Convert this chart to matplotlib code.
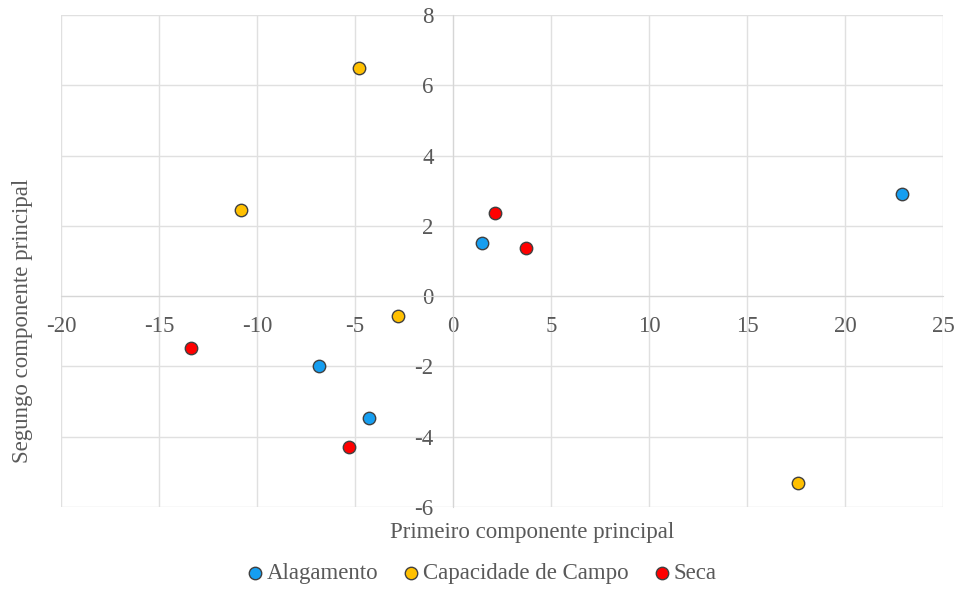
import matplotlib
matplotlib.use("Agg")
import matplotlib.pyplot as plt
from matplotlib.ticker import FuncFormatter

# PCA scores per treatment (first and second principal components)
alag_x = [1.5, 22.9, -6.85, -4.3]
alag_y = [1.5, 2.9, -1.98, -3.48]

cap_x = [-4.8, -10.8, -2.8, 17.6]
cap_y = [6.5, 2.46, -0.56, -5.33]

seca_x = [2.15, 3.7, -13.35, -5.3]
seca_y = [2.37, 1.36, -1.48, -4.28]

x_ticks = [-20, -15, -10, -5, 0, 5, 10, 15, 20, 25]
y_ticks = [-6, -4, -2, 0, 2, 4, 6, 8]

plt.rcParams["font.family"] = ["Liberation Serif", "DejaVu Serif"]
text_color = "#595959"
grid_color = "#e0e0e0"
fs = 16.5

fig = plt.figure(figsize=(9.6, 5.9), dpi=100)
ax = fig.add_axes([61 / 960, 1 - 507 / 590, 882 / 960, 492 / 590])

ax.set_xlim(-20, 25)
ax.set_ylim(-6, 8)
ax.set_xticks(x_ticks)
ax.set_yticks(y_ticks)
ax.grid(True, color=grid_color, linewidth=1.0)
ax.set_axisbelow(True)

# axes cross at the origin; spines only carry the tick labels
for side in ("top", "right"):
    ax.spines[side].set_visible(False)
ax.spines["left"].set_position(("data", 0))
ax.spines["bottom"].set_position(("data", 0))
ax.spines["left"].set_color("#d6d6d6")
ax.spines["bottom"].set_color("#d6d6d6")
ax.tick_params(axis="both", length=0, labelsize=fs, labelcolor=text_color)
ax.tick_params(axis="y", pad=14)
ax.tick_params(axis="x", pad=14)
fmt = FuncFormatter(lambda v, p: f"{v:.0f}")
ax.xaxis.set_major_formatter(fmt)
ax.yaxis.set_major_formatter(fmt)

mk = dict(s=80, edgecolors="#404040", linewidths=1.0, zorder=3)
ax.scatter(alag_x, alag_y, color="#169ef0", label="Alagamento", **mk)
ax.scatter(cap_x, cap_y, color="#ffc000", label="Capacidade de Campo", **mk)
ax.scatter(seca_x, seca_y, color="#ff0000", label="Seca", **mk)

ax.set_xlabel("Primeiro componente principal", fontsize=fs, color=text_color)
ax.xaxis.set_label_coords(0.534, -0.03)
ax.set_ylabel("Segungo componente principal", fontsize=fs, color=text_color)
ax.yaxis.set_label_coords(-0.032, 0.378)

leg = fig.legend(loc="center", bbox_to_anchor=(480 / 960, 1 - 573 / 590), ncol=3,
                 frameon=False, fontsize=fs, handletextpad=0.0, columnspacing=0.95,
                 scatterpoints=1, markerscale=1.0, handlelength=1.0)
for t in leg.get_texts():
    t.set_color(text_color)

fig.savefig("out.png", dpi=100)
